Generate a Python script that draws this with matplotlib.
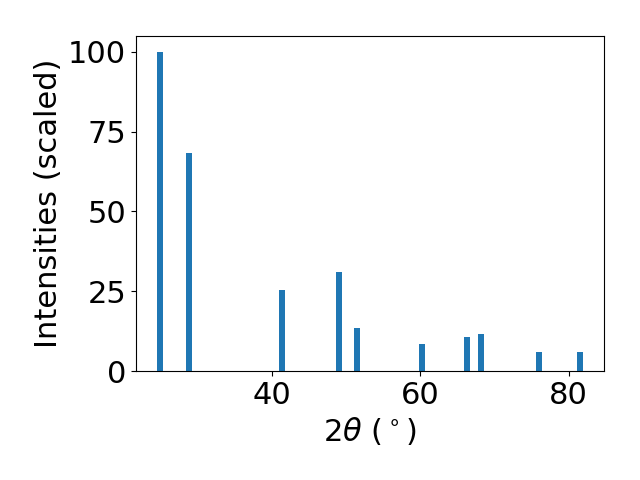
import matplotlib
matplotlib.use("Agg")
import matplotlib.pyplot as plt

two_theta = [25.0, 28.9, 41.4, 49.1, 51.5, 60.3, 66.3, 68.2, 75.95, 81.5]
intensities = [100, 68.4, 25.4, 31.0, 13.5, 8.5, 10.7, 11.6, 6.0, 6.0]

plt.rcParams['font.size'] = 22

fig, ax = plt.subplots(figsize=(6.4, 4.8), dpi=100)
ax.bar(two_theta, intensities, width=0.8)
ax.set_xlabel(r"$2\theta$ ($^\circ$)")
ax.set_ylabel("Intensities (scaled)")
fig.subplots_adjust(left=0.2125, right=0.944, top=0.925, bottom=0.227)
fig.savefig("out.png")
